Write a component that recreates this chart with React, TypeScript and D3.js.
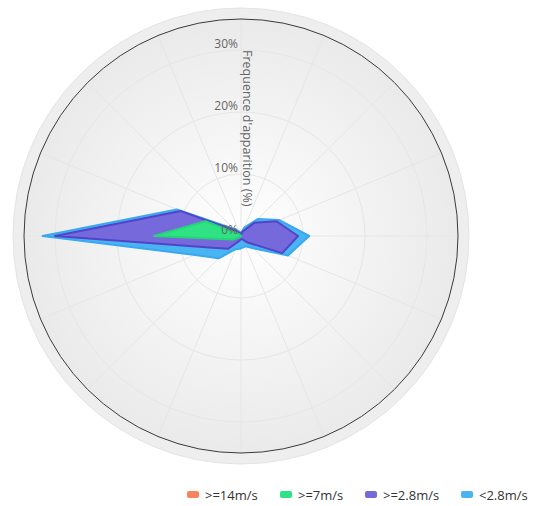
import React from 'react';
import * as d3 from 'd3';

const directions = ['N','NNE','NE','ENE','E','ESE','SE','SSE','S','SSW','SW','WSW','W','WNW','NW','NNW'];
const speed14 = [0,0,0,0,0,0,0,0,0,0,0,0,0,0,0,0];
const speed7 = [0,0,0,0,0,0,0,0,0,0,0.3,1.5,14,6.2,0.4,0];
const speed28 = [0.3,0.8,3.0,6.2,9.2,7.2,1.5,0.6,0.5,0.9,2.6,3.5,16,4.3,0.8,0.5];
const speedLow = [0.2,0.7,0.9,0.5,1.8,1.0,1.3,1.2,1.5,1.4,2.2,3.0,2.0,0.7,0.4,0.3];
const seriesNames = ['>=14m/s','>=7m/s','>=2.8m/s','<2.8m/s'];
const seriesValues = [speed14, speed7, speed28, speedLow];
const fillColors = ['#f8845f','#2fe283','#7669dc','#48b5f2'];
const lineColors = ['#f06a40','#22d876','#5244c8','#3aa8f0'];
const yTicks = [0,10,20,30];
const yMax = 35;
const axisTitle = "Frequence d'apparition (%)";

const W = 542, H = 506;
const cx = 241, cy = 236, R = 217, Rout = 228;
const font = "'Open Sans', 'Noto Sans', sans-serif";

export default function App() {
  const rows = directions.map((d, i) => {
    const o: any = { dir: d };
    seriesNames.forEach((s, k) => { o[s] = seriesValues[k][i]; });
    return o;
  });
  const stacked = d3.stack().keys(seriesNames)(rows);
  const r = d3.scaleLinear().domain([0, yMax]).range([0, R]);
  const ang = d3.scaleLinear().domain([0, directions.length]).range([0, 2 * Math.PI]);
  const line = d3.lineRadial<any>()
    .angle((_d, i) => ang(i))
    .radius((d) => r(d[1]))
    .curve(d3.curveLinearClosed);

  const legendX = [187, 280, 365, 461];

  return (
    <svg width={W} height={H} style={{ position: 'absolute', left: 0, top: 0 }}>
      <defs>
        <radialGradient id="paneGrad" cx="50%" cy="50%" r="50%">
          <stop offset="0%" stopColor="#ffffff" />
          <stop offset="100%" stopColor="#eaeaea" />
        </radialGradient>
      </defs>
      <rect width={W} height={H} fill="#ffffff" />
      <g transform={`translate(${cx},${cy})`}>
        <circle r={Rout} fill="#eeeeee" stroke="#e4e4e4" strokeWidth={1} />
        <circle r={R} fill="url(#paneGrad)" />
        {yTicks.filter(t => t > 0).map(t => (
          <circle key={t} r={r(t)} fill="none" stroke="#e6e6e6" strokeWidth={1} />
        ))}
        {directions.map((d, i) => (
          <line key={d} x1={0} y1={0}
            x2={R * Math.sin(ang(i))} y2={-R * Math.cos(ang(i))}
            stroke="#e6e6e6" strokeWidth={1} />
        ))}
        <circle r={R} fill="none" stroke="#3a3a3a" strokeWidth={1} />
        {stacked.slice().reverse().map((layer) => {
          const k = seriesNames.indexOf(layer.key);
          return (
            <path key={layer.key} d={line(layer as any) || ''}
              fill={fillColors[k]} stroke={lineColors[k]} strokeWidth={2}
              strokeLinejoin="round" />
          );
        })}
        {yTicks.map(t => (
          <text key={t} x={-3} y={-r(t) - 2} textAnchor="end"
            fontFamily={font} fontSize={12} fill="#666666">{t}%</text>
        ))}
        <text transform={`translate(2,${-(R - 31)}) rotate(90)`}
          fontFamily={font} fontSize={12.5} fill="#666666">{axisTitle}</text>
      </g>
      <g>
        {seriesNames.map((s, k) => (
          <g key={s} transform={`translate(${legendX[k]},495)`}>
            <rect x={0} y={-4} width={12} height={7} rx={2} fill={fillColors[k]} />
            <text x={18} y={4.5} fontFamily={font} fontSize={13} fill="#333333">{s}</text>
          </g>
        ))}
      </g>
    </svg>
  );
}
